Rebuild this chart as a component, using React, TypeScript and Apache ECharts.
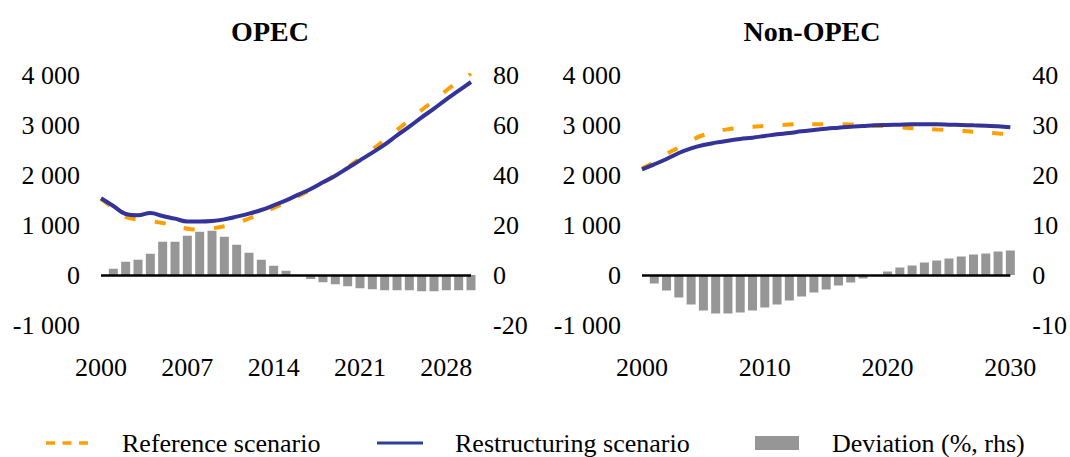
import React, { useEffect, useRef } from "react";
import * as echarts from "echarts";

const years = ["2000","2001","2002","2003","2004","2005","2006","2007","2008","2009","2010","2011","2012","2013","2014","2015","2016","2017","2018","2019","2020","2021","2022","2023","2024","2025","2026","2027","2028","2029","2030"];

const opecReference = [1520,1340,1160,1110,1080,1040,985,925,910,935,975,1040,1130,1230,1340,1455,1580,1700,1845,2000,2160,2330,2510,2700,2900,3100,3300,3490,3690,3870,4030];
const opecRestructuring = [1535,1380,1220,1195,1240,1180,1127,1070,1070,1080,1113,1167,1227,1300,1393,1493,1607,1720,1853,1987,2140,2293,2447,2607,2793,2967,3153,3327,3513,3687,3860];
const opecDeviation = [null,2.5,5.3,6.1,8.5,13.3,13.3,15.7,17.3,17.7,15.3,12.1,8.9,6.1,3.7,1.7,null,-1.6,-2.9,-3.7,-4.5,-5.3,-5.7,-6.1,-6.1,-6.1,-6.5,-6.5,-6.1,-6.1,-6.1];

const nonOpecReference = [2130,2260,2420,2550,2690,2800,2870,2915,2945,2965,2980,2995,3010,3015,3015,3015,3015,3012,3000,2985,2970,2955,2935,2922,2910,2900,2885,2865,2850,2830,2815];
const nonOpecRestructuring = [2113,2213,2320,2440,2533,2600,2647,2687,2720,2747,2780,2813,2840,2873,2900,2927,2947,2967,2980,2993,3000,3007,3013,3013,3013,3007,3000,2993,2987,2973,2955];
const nonOpecDeviation = [null,-1.7,-3.1,-4.5,-5.9,-7.1,-7.7,-7.7,-7.5,-7.1,-6.5,-5.9,-5.1,-4.3,-3.5,-2.9,-2.1,-1.5,-0.7,null,0.7,1.5,1.9,2.5,2.9,3.3,3.7,4.1,4.3,4.7,4.9];

const titles = ["OPEC", "Non-OPEC"];
const legendLabels = ["Reference scenario", "Restructuring scenario", "Deviation (%, rhs)"];

const FONT = "'Times New Roman', 'Liberation Serif', serif";
const ORANGE = "#FFA000";
const BLUE = "#333399";
const GRAY = "#969696";

const fmt = (v: number) => {
  const s = Math.abs(v).toString().replace(/\B(?=(\d{3})+(?!\d))/g, " ");
  return (v < 0 ? "-" : "") + s;
};

export default function App() {
  const ref = useRef<HTMLDivElement>(null);
  useEffect(() => {
    if (!ref.current) return;
    const chart = echarts.init(ref.current, undefined, { renderer: "svg" });
    const labelStyle = { fontSize: 26, color: "#000", fontFamily: FONT };
    const xAxis = (gridIndex: number, interval: number) => ({
      gridIndex,
      type: "category",
      data: years,
      boundaryGap: false,
      axisLine: { show: false },
      axisTick: { show: false },
      splitLine: { show: false },
      axisLabel: { ...labelStyle, interval, margin: 29 },
    });
    const yAxis = (gridIndex: number, min: number, max: number, interval: number, right: boolean) => ({
      gridIndex,
      type: "value",
      position: right ? "right" : "left",
      min,
      max,
      interval,
      axisLine: { show: false },
      axisTick: { show: false },
      splitLine: { show: false },
      axisLabel: { ...labelStyle, margin: right ? 22 : 21, formatter: (v: number) => fmt(v) },
    });
    const bar = (xi: number, yi: number, data: (number | null)[]) => ({
      type: "bar",
      name: legendLabels[2],
      xAxisIndex: xi,
      yAxisIndex: yi,
      data,
      barWidth: 9,
      itemStyle: { color: GRAY },
      z: 1,
      markLine: {
        silent: true,
        symbol: ["none", "none"],
        label: { show: false },
        lineStyle: { color: "#000", width: 2.5, type: "solid" },
        data: [{ yAxis: 0 }],
      },
    });
    const line = (xi: number, yi: number, data: number[], isRef: boolean) => ({
      type: "line",
      name: isRef ? legendLabels[0] : legendLabels[1],
      xAxisIndex: xi,
      yAxisIndex: yi,
      data,
      smooth: 0.4,
      showSymbol: false,
      symbol: "none",
      z: isRef ? 3 : 4,
      lineStyle: isRef
        ? { color: ORANGE, width: 4, type: [11, 19], cap: "butt" }
        : { color: BLUE, width: 4 },
    });
    const legendY = 443;
    chart.setOption({
      animation: false,
      grid: [
        { left: 101, right: 599, top: 75, bottom: 132 },
        { left: 642, right: 57, top: 75, bottom: 132 },
      ],
      xAxis: [xAxis(0, 6), xAxis(1, 9)],
      yAxis: [
        yAxis(0, -1000, 4000, 1000, false),
        yAxis(0, -20, 80, 20, true),
        yAxis(1, -1000, 4000, 1000, false),
        yAxis(1, -10, 40, 10, true),
      ],
      series: [
        bar(0, 1, opecDeviation),
        line(0, 0, opecReference, true),
        line(0, 0, opecRestructuring, false),
        bar(1, 3, nonOpecDeviation),
        line(1, 2, nonOpecReference, true),
        line(1, 2, nonOpecRestructuring, false),
      ],
      graphic: [
        { type: "text", x: 270, y: 31, style: { text: titles[0], font: `bold 28px ${FONT}`, fill: "#000", align: "center", verticalAlign: "middle" } },
        { type: "text", x: 812, y: 31, style: { text: titles[1], font: `bold 28px ${FONT}`, fill: "#000", align: "center", verticalAlign: "middle" } },
        { type: "line", shape: { x1: 46, y1: legendY, x2: 88, y2: legendY }, style: { stroke: ORANGE, lineWidth: 3.5, lineDash: [9, 7.5] } },
        { type: "text", x: 122, y: legendY, style: { text: legendLabels[0], font: `26px ${FONT}`, fill: "#000", verticalAlign: "middle" } },
        { type: "line", shape: { x1: 377, y1: legendY, x2: 423, y2: legendY }, style: { stroke: "#2B3F9E", lineWidth: 3 } },
        { type: "text", x: 455, y: legendY, style: { text: legendLabels[1], font: `26px ${FONT}`, fill: "#000", verticalAlign: "middle" } },
        { type: "rect", shape: { x: 755, y: 436, width: 44, height: 14 }, style: { fill: GRAY } },
        { type: "text", x: 832, y: legendY, style: { text: legendLabels[2], font: `26px ${FONT}`, fill: "#000", verticalAlign: "middle" } },
      ],
    });
    return () => chart.dispose();
  }, []);
  return <div ref={ref} style={{ position: "absolute", left: 0, top: 0, width: 1070, height: 457, background: "#fff" }} />;
}
